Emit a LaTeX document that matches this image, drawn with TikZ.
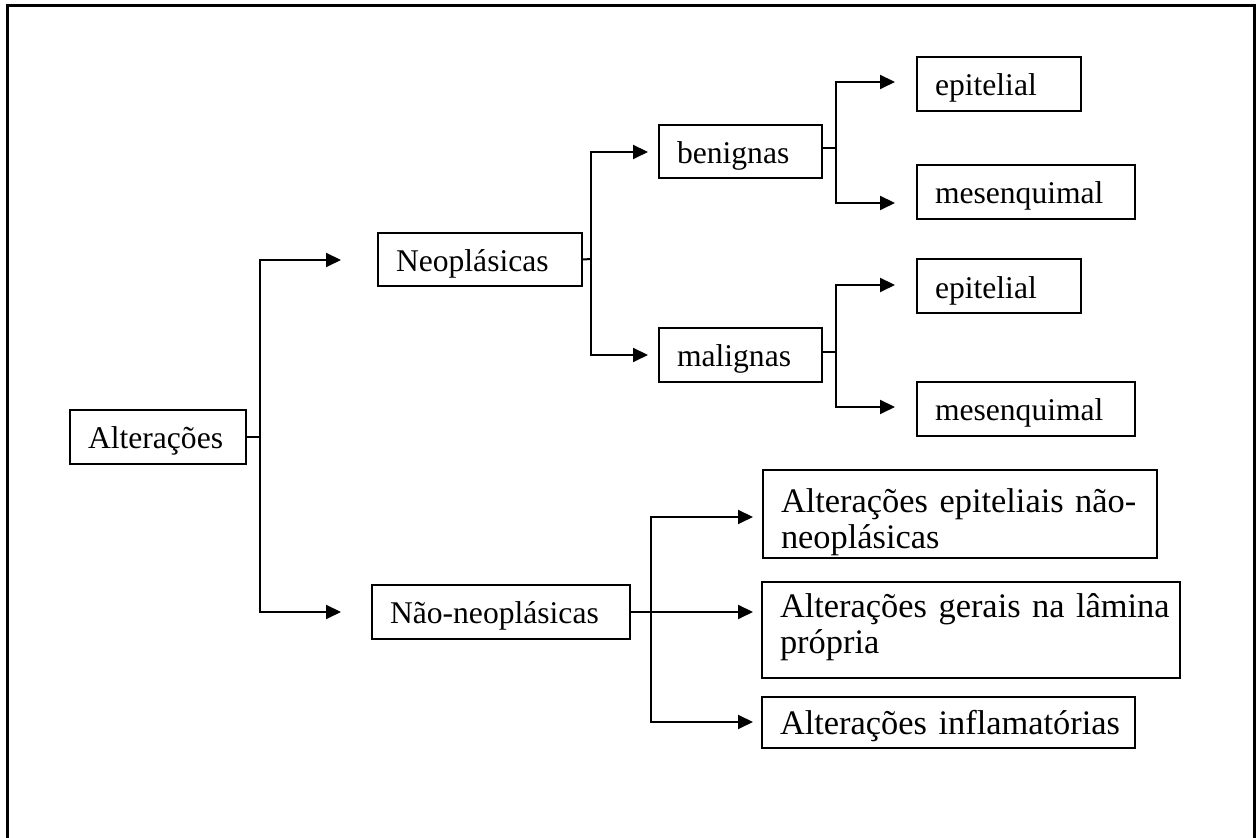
\documentclass[tikz,border=0pt]{standalone}
\usepackage{fontspec}
\setmainfont{Liberation Serif}
\usetikzlibrary{arrows.meta,calc}

\tikzset{
  box/.style={draw, line width=1pt, inner xsep=9pt, inner ysep=1pt,
    align=left, text height=16pt, text depth=4pt,
    font=\fontsize{15.8pt}{17.5pt}\selectfont},
  bigbox/.style={box, font=\fontsize{17.2pt}{18pt}\selectfont},
  wire/.style={line width=1pt},
  wirearrow/.style={wire, -{Triangle[length=7.5pt,width=7pt]}}
}

\begin{document}
\begin{tikzpicture}[x=0.5pt,y=-0.5pt]
  % page size, one unit is one pixel of the original
  \useasboundingbox (0,0) rectangle (1260,838);
  % outer frame (its bottom edge runs off the page)
  \draw[line width=1.5pt] (7,850) -- (7,6) -- (1254,6) -- (1254,850);

  % root
  \node[box, minimum width=88pt, minimum height=27pt, text width=70pt] (alt) at (158,437) {Alterações};

  % second level
  \node[box, minimum width=102pt, minimum height=26.5pt, text width=84pt] (neo) at (480,259.5) {Neoplásicas};
  \node[box, minimum width=129pt, minimum height=27pt, text width=111pt] (nao) at (501,612) {Não-neoplásicas};

  % third level, neoplastic branch
  \node[box, minimum width=81.5pt, minimum height=26.5pt, text width=63.5pt] (ben) at (740.5,151.5) {benignas};
  \node[box, minimum width=81.5pt, minimum height=27pt, text width=63.5pt] (mal) at (740.5,355) {malignas};

  % fourth level
  \node[box, minimum width=82pt, minimum height=27pt, text width=64pt] (epiA) at (999,84) {epitelial};
  \node[box, minimum width=109pt, minimum height=27pt, text width=91pt] (mesA) at (1026,192) {mesenquimal};
  \node[box, minimum width=82pt, minimum height=27pt, text width=64pt] (epiB) at (999,286.5) {epitelial};
  \node[box, minimum width=109pt, minimum height=27pt, text width=91pt] (mesB) at (1026,409) {mesenquimal};

  % third level, non-neoplastic branch (lines may run into the right padding)
  \node[bigbox, minimum width=197pt, minimum height=44pt, text width=179pt,
        text height=20.5pt, text depth=21.5pt] (aen) at (960,514)
        {\mbox{Alterações epiteliais não-}\\neoplásicas};
  \node[bigbox, minimum width=209pt, minimum height=48pt, text width=191pt,
        text height=10.5pt, text depth=22.5pt] (agl) at (971,630)
        {\mbox{Alterações gerais na lâmina}\\própria};
  \node[bigbox, minimum width=186.5pt, minimum height=25.5pt, text width=168.5pt] (ainf) at (948.5,723)
        {\mbox{Alterações inflamatórias}};

  % junctions and arrow tips (the arrows stop short of the boxes)
  \coordinate (jalt) at (260,437);
  \coordinate (jneo) at (591,259);
  \coordinate (jnao) at (651,612);
  \coordinate (jben) at (836,148);
  \coordinate (jmal) at (836,352);
  \coordinate (tneo) at (341,260);
  \coordinate (tnao) at (341,612);
  \coordinate (tben) at (648,152);
  \coordinate (tmal) at (648,355);
  \coordinate (tepiA) at (895,82);
  \coordinate (tmesA) at (895,203);
  \coordinate (tepiB) at (895,285);
  \coordinate (tmesB) at (895,407);
  \coordinate (taen) at (753,517);
  \coordinate (tagl) at (753,612);
  \coordinate (tainf) at (753,722);

  % root -> second level
  \draw[wire] (alt.east) -- (jalt);
  \draw[wirearrow] (jalt) |- (tneo);
  \draw[wirearrow] (jalt) |- (tnao);

  % Neoplasicas -> benignas / malignas
  \draw[wire] (neo.east) -- (jneo);
  \draw[wirearrow] (jneo) |- (tben);
  \draw[wirearrow] (jneo) |- (tmal);

  % benignas -> epitelial / mesenquimal
  \draw[wire] (ben.east |- jben) -- (jben);
  \draw[wirearrow] (jben) |- (tepiA);
  \draw[wirearrow] (jben) |- (tmesA);

  % malignas -> epitelial / mesenquimal
  \draw[wire] (mal.east |- jmal) -- (jmal);
  \draw[wirearrow] (jmal) |- (tepiB);
  \draw[wirearrow] (jmal) |- (tmesB);

  % Nao-neoplasicas -> three groups
  \draw[wire] (nao.east) -- (jnao);
  \draw[wirearrow] (jnao) |- (taen);
  \draw[wirearrow] (jnao) -- (tagl);
  \draw[wirearrow] (jnao) |- (tainf);

\end{tikzpicture}
\end{document}
